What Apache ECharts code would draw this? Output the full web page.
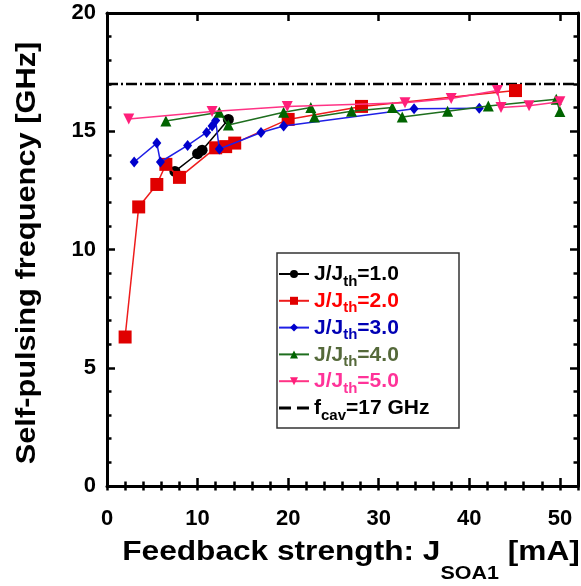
<!DOCTYPE html>
<html>
<head>
<meta charset="utf-8">
<script src="https://cdn.jsdelivr.net/npm/echarts@6/dist/echarts.min.js"></script>
<style>
  html, body { margin: 0; padding: 0; background: #fff; }
  #chart { width: 581px; height: 586px; }
</style>
</head>
<body>
<div id="chart"></div>
<script>
// Self-pulsing frequency vs. feedback strength, one trace per pump ratio J/Jth.
const ratioLabels = ['1.0', '2.0', '3.0', '4.0', '5.0'];
const seriesNames = ['J/Jth=1.0', 'J/Jth=2.0', 'J/Jth=3.0', 'J/Jth=4.0', 'J/Jth=5.0', 'fcav=17 GHz'];

// [J_SOA1 (mA), frequency (GHz)]
const ratio1 = [[7.5, 13.3], [10.0, 14.05], [10.5, 14.2], [13.4, 15.5]];
const ratio2 = [[2.0, 6.3], [3.5, 11.8], [5.5, 12.75], [6.5, 13.6], [8.0, 13.05], [12.0, 14.3],
                [13.1, 14.35], [14.1, 14.5], [20.0, 15.5], [28.1, 16.05], [45.1, 16.72]];
const ratio3 = [[3.0, 13.7], [5.5, 14.5], [5.9, 13.7], [8.9, 14.4], [11.0, 14.95], [11.6, 15.22],
                [12.0, 15.45], [12.4, 14.25], [17.0, 14.95], [19.5, 15.22], [33.9, 15.95], [41.1, 15.97]];
const ratio4 = [[6.5, 15.43], [12.4, 15.8], [13.4, 15.26], [19.5, 15.8], [22.5, 16.0], [22.9, 15.6],
                [27.0, 15.85], [31.5, 16.0], [32.6, 15.6], [37.6, 15.85], [42.1, 16.07], [49.6, 16.35], [50.0, 15.83]];
const ratio5 = [[2.4, 15.52], [11.6, 15.83], [19.9, 16.05], [32.9, 16.2], [38.0, 16.38], [43.1, 16.72],
                [43.5, 16.0], [46.6, 16.08], [50.0, 16.25]];
const fCav = 17;

const xRange = [0, 52];
const yRange = [0, 20];
const xTickLabels = [0, 10, 20, 30, 40, 50];
const yTickLabels = [0, 5, 10, 15, 20];

const FONT = '"Liberation Sans", Arial, Helvetica, sans-serif';
const markerColors = ['#000000', '#e00000', '#0000cc', '#006400', '#ff1f7a'];
const lineColors = ['#000000', '#ee1c1c', '#1f1fe6', '#1e6e1e', '#ff3385'];
const legendTextColors = ['#000000', '#ff0000', '#0000b4', '#55693a', '#ff3399', '#000000'];
const symbols = ['circle', 'rect', 'diamond', 'triangle', 'triangle'];
const symbolSizes = [11, 13, [9, 11], 11, 11];
const symbolRotates = [0, 0, 0, 0, 180];

// two short dashes for the cavity-frequency legend key (corner dots fix the icon box)
const dashIcon = 'path://M0,0h0.01v0.01h-0.01z M30,10h0.01v0.01h-0.01z M0,3.6h12v3h-12z M18,3.6h12v3h-12z';

const chart = echarts.init(document.getElementById('chart'), null, { renderer: 'canvas' });

const dataSets = [ratio1, ratio2, ratio3, ratio4, ratio5];
const series = dataSets.map((d, i) => ({
  name: seriesNames[i],
  type: 'line',
  data: d,
  symbol: symbols[i],
  symbolSize: symbolSizes[i],
  symbolRotate: symbolRotates[i],
  itemStyle: { color: markerColors[i] },
  lineStyle: { color: lineColors[i], width: 1.5 },
  z: 3 + i
}));
series.unshift({
  name: seriesNames[5],
  type: 'line',
  data: [[xRange[0], fCav], [xRange[1], fCav]],
  symbol: 'none',
  itemStyle: { color: '#000' },
  lineStyle: { color: '#000', width: 2.5, type: [11, 3, 2, 3] },
  z: 2
});

// rich styles for legend entries (with subscripts)
const rich = {};
legendTextColors.forEach((c, i) => {
  rich['m' + i] = { color: c, fontSize: 21, fontWeight: 'bold', fontFamily: FONT, lineHeight: 20, verticalAlign: 'top' };
  rich['s' + i] = { color: c, fontSize: 15, fontWeight: 'bold', fontFamily: FONT, lineHeight: 14, padding: [10, 0, 0, 0], verticalAlign: 'top' };
});

function legendText(name) {
  const i = seriesNames.indexOf(name);
  if (i < 5) return '{m' + i + '|J/J}{s' + i + '|th}{m' + i + '|=' + ratioLabels[i] + '}';
  return '{m5|f}{s5|cav}{m5|=' + fCav + ' GHz}';
}

const majorTick = { show: true, inside: true, length: 8, lineStyle: { color: '#000', width: 2.5 } };
const minorTickX = { show: true, inside: true, length: 4.5, lineStyle: { color: '#000', width: 2.5 } };
const frameLine = { show: true, onZero: false, lineStyle: { color: '#000', width: 3 } };
const tickLabel = { fontSize: 22, fontWeight: 'bold', color: '#000', fontFamily: FONT };

function xAxisPair(position, withLabels) {
  return [
    {
      type: 'value', position, min: xRange[0], max: xRange[1], interval: 10,
      axisLine: frameLine, axisTick: majorTick,
      axisLabel: withLabels
        ? Object.assign({ margin: 22, formatter: v => (xTickLabels.indexOf(v) >= 0 ? String(v) : '') }, tickLabel)
        : { show: false },
      splitLine: { show: false }
    },
    {
      type: 'value', position, min: xRange[0], max: xRange[1], interval: 2,
      axisLine: { show: false }, axisTick: minorTickX,
      axisLabel: { show: false }, splitLine: { show: false }
    }
  ];
}

function yAxisDef(position, withLabels) {
  return {
    type: 'value', position, min: yRange[0], max: yRange[1], interval: 5,
    axisLine: frameLine, axisTick: majorTick,
    minorTick: { show: true, splitNumber: 5, length: 4.5, lineStyle: { color: '#000', width: 2.5 } },
    axisLabel: withLabels
      ? Object.assign({ margin: 11, formatter: v => (yTickLabels.indexOf(v) >= 0 ? String(v) : '') }, tickLabel)
      : { show: false },
    splitLine: { show: false }, minorSplitLine: { show: false }
  };
}

chart.setOption({
  animation: false,
  backgroundColor: '#fff',
  grid: { left: 107, top: 13, right: 0, bottom: 100, containLabel: false },
  xAxis: xAxisPair('bottom', true).concat(xAxisPair('top', false)),
  yAxis: [yAxisDef('left', true), yAxisDef('right', false)],
  legend: {
    orient: 'vertical',
    left: 278, top: 264,
    padding: 0,
    itemWidth: 30, itemHeight: 10, itemGap: 1.8,
    data: seriesNames.slice(0, 5).map(n => ({ name: n })).concat([
      { name: seriesNames[5], icon: dashIcon, itemStyle: { color: '#000' } }
    ]),
    formatter: legendText,
    textStyle: { rich: rich, fontFamily: FONT },
    z: 20
  },
  graphic: [
    {
      type: 'rect', z: 15, silent: true,
      shape: { x: 277, y: 253, width: 182, height: 175 },
      style: { fill: '#fff', stroke: '#333', lineWidth: 1.5 }
    },
    {
      type: 'text', z: 20, silent: true,
      x: 27, y: 253, rotation: Math.PI / 2, scaleX: 1.1,
      style: {
        text: 'Self-pulsing frequency [GHz]',
        font: 'bold 28px ' + FONT, fill: '#000',
        align: 'center', verticalAlign: 'middle'
      }
    },
    {
      type: 'text', z: 20, silent: true,
      x: 351, y: 538, scaleX: 1.13,
      style: {
        text: '{m|Feedback strength: J}{s|SOA1}{m| [mA]}',
        align: 'center', verticalAlign: 'top',
        rich: {
          m: { fontSize: 28, fontWeight: 'bold', fontFamily: FONT, color: '#000', lineHeight: 30, verticalAlign: 'top' },
          s: { fontSize: 19, fontWeight: 'bold', fontFamily: FONT, color: '#000', lineHeight: 20, padding: [26, 0, 0, 0], verticalAlign: 'top' }
        }
      }
    }
  ],
  series: series
});
</script>
</body>
</html>
